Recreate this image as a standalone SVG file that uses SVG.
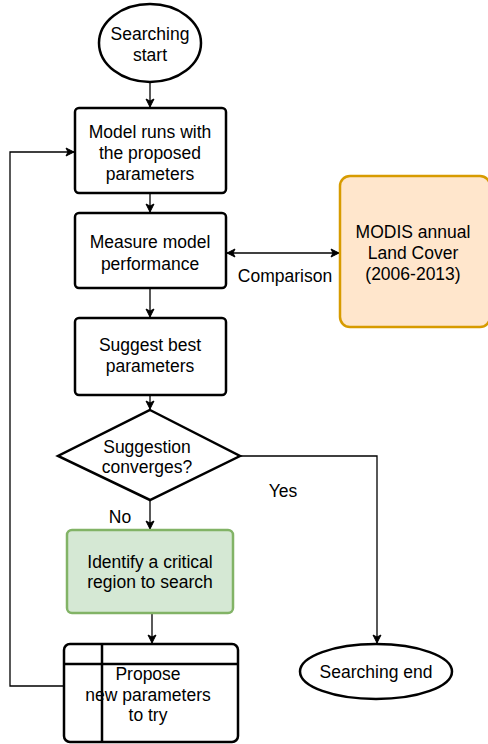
<svg xmlns="http://www.w3.org/2000/svg" width="488" height="744" viewBox="0 0 488 744">
<defs>
<marker id="arr" markerWidth="10" markerHeight="10" refX="9" refY="5" orient="auto-start-reverse" markerUnits="userSpaceOnUse">
<path d="M1,1 L9,5 L1,9 L3,5 Z" fill="#000" stroke="#000" stroke-width="1"/>
</marker>
</defs>
<style>
.n{fill:#fff;stroke:#000;stroke-width:2.5}
.t{font-family:"Liberation Sans",Arial,sans-serif;font-size:17.5px;fill:#000;text-anchor:middle}
.c{fill:none;stroke:#000;stroke-width:1.3}
</style>
<rect width="488" height="744" fill="#fff"/>
<g id="connectors">
<path class="c" d="M150,82 V107" marker-end="url(#arr)"/>
<path class="c" d="M150,193 V212" marker-end="url(#arr)"/>
<path class="c" d="M150,288 V317" marker-end="url(#arr)"/>
<path class="c" d="M150,395 V409" marker-end="url(#arr)"/>
<path class="c" d="M150,500 V529" marker-end="url(#arr)"/>
<path class="c" d="M152,613 V643" marker-end="url(#arr)"/>
<path class="c" d="M227,253 H339" marker-start="url(#arr)" marker-end="url(#arr)"/>
<path class="c" d="M240,456 H377 V643" marker-end="url(#arr)"/>
<path class="c" d="M64,686 H10 V152 H74" marker-end="url(#arr)"/>
<text class="t" x="285" y="282">Comparison</text>
<text class="t" x="283" y="497">Yes</text>
<text class="t" x="120" y="523">No</text>
</g>
<g id="start">
<ellipse class="n" cx="150" cy="43" rx="51" ry="39"/>
<text class="t" x="150" y="40">Searching</text>
<text class="t" x="150" y="61">start</text>
</g>
<g id="model-runs">
<rect class="n" x="75" y="108" width="151" height="85" rx="4"/>
<text class="t" x="150" y="138">Model runs with</text>
<text class="t" x="150" y="159">the proposed</text>
<text class="t" x="150" y="180">parameters</text>
</g>
<g id="measure">
<rect class="n" x="75" y="213" width="151" height="75" rx="4"/>
<text class="t" x="150" y="248">Measure model</text>
<text class="t" x="150" y="270">performance</text>
</g>
<g id="modis">
<rect x="340" y="176" width="150" height="151" rx="10" fill="#ffe6cc" stroke="#d79b00" stroke-width="2.5"/>
<text class="t" x="413" y="238">MODIS annual</text>
<text class="t" x="413" y="259">Land Cover</text>
<text class="t" x="413" y="280">(2006-2013)</text>
</g>
<g id="suggest">
<rect class="n" x="75" y="318" width="151" height="77" rx="4"/>
<text class="t" x="150" y="351">Suggest best</text>
<text class="t" x="150" y="372">parameters</text>
</g>
<g id="decision">
<polygon class="n" points="150,410 240,456 150,500 58,456"/>
<text class="t" x="147" y="453">Suggestion</text>
<text class="t" x="147" y="473">converges?</text>
</g>
<g id="identify">
<rect x="67" y="530" width="166" height="83" rx="5" fill="#d5e8d4" stroke="#82b366" stroke-width="2.5"/>
<text class="t" x="150" y="568">Identify a critical</text>
<text class="t" x="150" y="588">region to search</text>
</g>
<g id="propose">
<rect class="n" x="64" y="644" width="174" height="98" rx="6"/>
<path d="M64,664 H238 M102,644 V742" fill="none" stroke="#000" stroke-width="2.5"/>
<text class="t" x="148" y="680">Propose</text>
<text class="t" x="148" y="701">new parameters</text>
<text class="t" x="148" y="721">to try</text>
</g>
<g id="end">
<ellipse class="n" cx="376" cy="671.5" rx="76" ry="27.5"/>
<text class="t" x="376" y="678">Searching end</text>
</g>
</svg>
